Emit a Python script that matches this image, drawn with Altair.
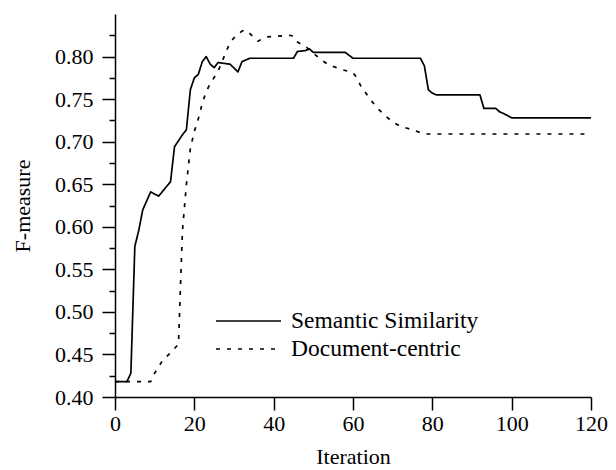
import altair as alt
import pandas as pd

# ---- data ----
series_names = ["Semantic Similarity", "Document-centric"]

semantic_iter = [0, 3, 4, 5, 6, 7, 9, 11, 14, 15, 17, 18, 19, 20, 21, 22, 23, 24, 25,
                 26, 29, 31, 32, 34, 45, 46, 48, 49, 50, 58, 60, 77, 78, 79, 80, 81,
                 92, 93, 96, 97, 98, 100, 120]
semantic_f = [0.418, 0.418, 0.428, 0.577, 0.596, 0.620, 0.641, 0.636, 0.653, 0.694,
              0.708, 0.714, 0.761, 0.775, 0.779, 0.794, 0.800, 0.791, 0.787, 0.793,
              0.791, 0.782, 0.794, 0.798, 0.798, 0.806, 0.807, 0.809, 0.805, 0.805,
              0.798, 0.798, 0.789, 0.761, 0.757, 0.755, 0.755, 0.739, 0.739, 0.735,
              0.733, 0.728, 0.728]

doc_iter = [0, 9, 10, 12, 14, 16, 17, 18, 19, 20, 21, 22, 23, 24, 26, 27, 28, 29, 30,
            32, 33, 34, 36, 38, 44, 45, 46, 48, 50, 52, 54, 57, 60, 61, 62, 64, 66,
            68, 70, 72, 75, 78, 120]
doc_f = [0.418, 0.418, 0.428, 0.443, 0.452, 0.462, 0.595, 0.650, 0.692, 0.712, 0.727,
         0.745, 0.759, 0.768, 0.783, 0.794, 0.806, 0.816, 0.822, 0.830, 0.831, 0.827,
         0.818, 0.823, 0.825, 0.824, 0.817, 0.812, 0.804, 0.796, 0.790, 0.785, 0.781,
         0.775, 0.765, 0.752, 0.740, 0.731, 0.723, 0.718, 0.714, 0.709, 0.709]

x_ticks = [0, 20, 40, 60, 80, 100, 120]
y_ticks = [0.40, 0.425, 0.45, 0.475, 0.50, 0.525, 0.55, 0.575, 0.60, 0.625, 0.65,
           0.675, 0.70, 0.725, 0.75, 0.775, 0.80, 0.825]

df = pd.concat([
    pd.DataFrame({"iteration": semantic_iter, "f": semantic_f, "series": series_names[0]}),
    pd.DataFrame({"iteration": doc_iter, "f": doc_f, "series": series_names[1]}),
], ignore_index=True)

FONT = "Liberation Serif"
major_test = "round(datum.value * 40) % 2 == 0"

chart = alt.Chart(df).mark_line(
    color="black", strokeWidth=1.7, strokeJoin="round"
).encode(
    x=alt.X(
        "iteration:Q",
        scale=alt.Scale(domain=[0, 120], nice=False, zero=False),
        axis=alt.Axis(
            title="Iteration", values=x_ticks, tickSize=13, labelPadding=3,
            labelFlush=False, labelOverlap=False, grid=False, titlePadding=12,
        ),
    ),
    y=alt.Y(
        "f:Q",
        scale=alt.Scale(domain=[0.40, 0.85], nice=False, zero=False),
        axis=alt.Axis(
            title="F-measure", values=y_ticks,
            tickSize={"condition": {"test": major_test, "value": 13}, "value": 6},
            labelExpr=f"{major_test} ? format(datum.value, '.2f') : ''",
            labelPadding=9, labelFlush=False, labelOverlap=False, grid=False,
            titlePadding=20,
        ),
    ),
    strokeDash=alt.StrokeDash(
        "series:N",
        scale=alt.Scale(domain=series_names, range=[[1, 0], [4, 7]]),
        legend=alt.Legend(
            title=None, orient="none", legendX=100, legendY=294,
            symbolType="stroke", symbolSize=4225, symbolStrokeWidth=1.7,
            symbolStrokeColor="black", labelFont=FONT, labelFontSize=23.5,
            labelColor="black", labelOffset=9, labelLimit=400,
            clipHeight=26, rowPadding=2, padding=0,
        ),
    ),
).properties(
    width=476, height=383,
    autosize=alt.AutoSizeParams(type="none"),
    padding={"left": 107, "top": 6, "right": 17, "bottom": 72},
).configure_view(stroke=None).configure_axis(
    domainColor="black", tickColor="black", labelColor="black", titleColor="black",
    domainWidth=1.5, tickWidth=1.5, labelFont=FONT, titleFont=FONT,
    labelFontSize=22, titleFontSize=22, titleFontWeight="normal",
)

chart.save("out.html", embed_options={"renderer": "svg", "actions": False})
